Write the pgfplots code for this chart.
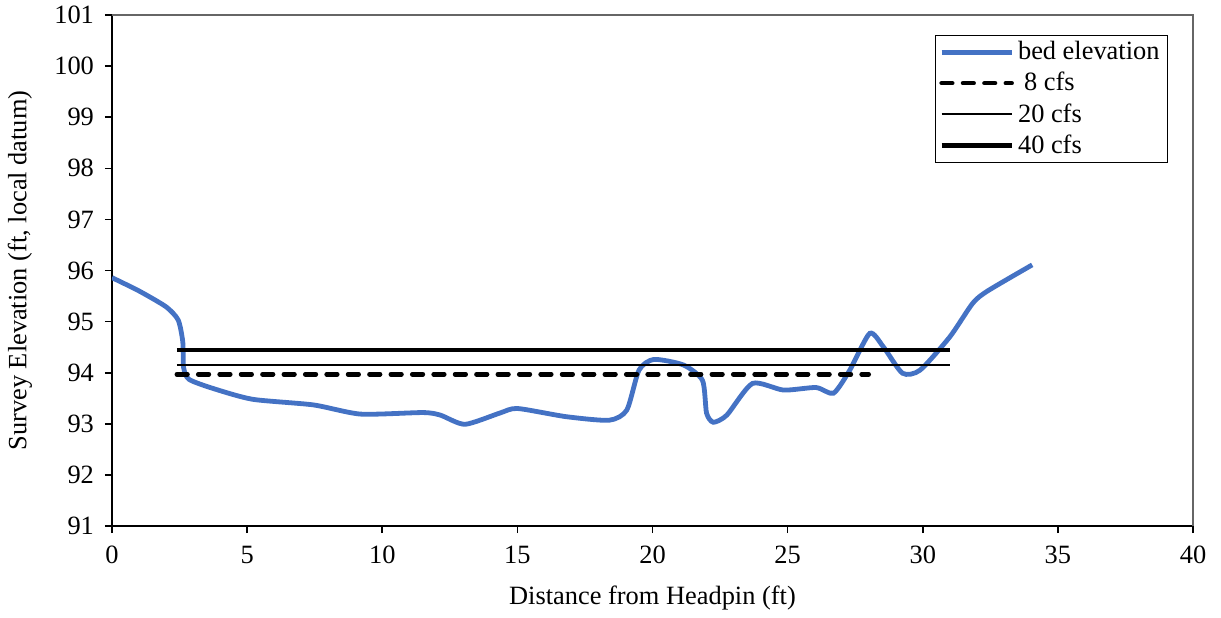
\documentclass[border=0pt]{standalone}
\usepackage{pgfplots}
\pgfplotsset{compat=1.18}
\usepackage{fontspec}
\setmainfont{Liberation Serif}
\definecolor{bedblue}{HTML}{4472C4}
\begin{document}
\begin{tikzpicture}
\path[use as bounding box] (-56pt,-45.5pt) rectangle (554.5pt,263pt);
\begin{axis}[
  scale only axis,
  width=540.5pt, height=255.5pt,
  xmin=0, xmax=40, ymin=91, ymax=101,
  xtick={0,5,...,40}, ytick={91,92,...,101},
  axis x line=bottom, axis y line=left,
  axis line style={-, black, line width=0.8pt},
  tick align=outside,
  tick style={black, line width=0.8pt},
  major tick length=3.5pt,
  font=\fontsize{13.2}{16}\selectfont,
  /pgf/number format/assume math mode=true,
  /pgf/number format/1000 sep={},
  xticklabel style={yshift=-3pt},
  yticklabel style={xshift=-2pt},
  xlabel={Distance from Headpin (ft)},
  ylabel={Survey Elevation (ft, local datum)},
  xlabel style={at={(axis description cs:0.5,-0.141)}, anchor=center},
  ylabel style={at={(axis description cs:-0.0851,0.5)}, anchor=center},
  legend cell align=left,
  legend style={at={(0.9769,0.9609)}, anchor=north east, draw=black, line width=0.5pt,
    inner xsep=2pt, inner ysep=1pt, row sep=0.8pt,
    font=\fontsize{13.2}{16}\selectfont,
    /tikz/every even column/.append style={column sep=0pt}},
  legend image code/.code={\draw[#1] (0pt,0pt) -- (35pt,0pt);},
  after end axis/.code={\draw[gray!80!black, line width=0.8pt] (rel axis cs:0,1) -- (rel axis cs:1,1) -- (rel axis cs:1,0);},
]
\addplot[bedblue, line width=2.4pt, smooth, tension=0.4] coordinates {
(0,95.86) (1.0,95.6) (2.0,95.29) (2.45,95.03) (2.62,94.6) (2.65,94.1) (2.85,93.87)
(3.75,93.69) (5.2,93.48) (7.45,93.37) (9.2,93.19) (11.5,93.22) (12.15,93.17)
(13.06,92.99) (14.35,93.21) (15.0,93.30) (16.8,93.14) (18.4,93.07) (19.05,93.27)
(19.5,94.05) (20.05,94.26) (21.15,94.15) (21.85,93.85) (22.0,93.21) (22.25,93.03)
(22.75,93.17) (23.7,93.79) (24.85,93.66) (26.05,93.71) (26.7,93.6) (27.3,94.05)
(28.04,94.77) (28.55,94.5) (29.25,93.99) (29.9,94.05) (31.0,94.7) (31.85,95.36)
(32.4,95.6) (34.05,96.11)
};
\addlegendentry{bed elevation}
\addplot[black, line width=2.3pt, line cap=round, dash pattern=on 5.3pt off 5.4pt] coordinates {(2.4,93.97) (28.0,93.97)};
\addlegendentry{\hspace{3pt}8 cfs}
\addplot[black, line width=1pt] coordinates {(2.4,94.16) (31.0,94.16)};
\addlegendentry{20 cfs}
\addplot[black, line width=2.2pt] coordinates {(2.4,94.44) (31.0,94.44)};
\addlegendentry{40 cfs}
\end{axis}
\end{tikzpicture}
\end{document}
